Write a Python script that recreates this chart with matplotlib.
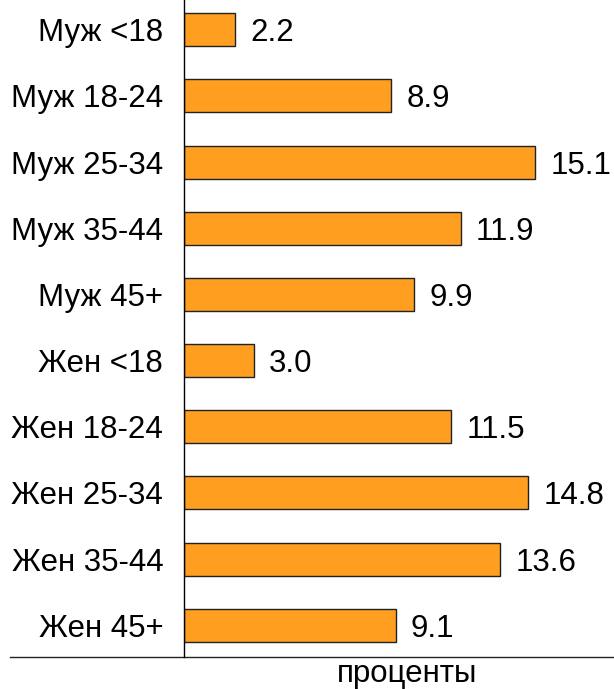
import matplotlib
matplotlib.use('Agg')
import matplotlib.pyplot as plt

# группы и доли, проценты
labels = ['Муж <18', 'Муж 18-24', 'Муж 25-34', 'Муж 35-44', 'Муж 45+',
          'Жен <18', 'Жен 18-24', 'Жен 25-34', 'Жен 35-44', 'Жен 45+']
values = [2.2, 8.9, 15.1, 11.9, 9.9, 3.0, 11.5, 14.8, 13.6, 9.1]

plt.rcParams['font.family'] = ['Liberation Sans', 'DejaVu Sans']

fig = plt.figure(figsize=(6.14, 6.89), dpi=100)
ax = fig.add_axes([184 / 614, 32 / 689, 430 / 614, 657 / 689])

pos = list(range(len(values)))
ax.barh(pos, values, height=0.5, color='#FF9E1F', edgecolor='#222222', linewidth=1)

for p, v in zip(pos, values):
    ax.annotate('%.1f' % v, (v, p), xytext=(11, 0), textcoords='offset points',
                va='center_baseline', ha='left', fontsize=22.5)

ax.set_yticks(pos)
ax.set_yticklabels(labels, fontsize=22.5, va='center_baseline')
ax.tick_params(axis='y', length=0, pad=15)
ax.set_xticks([])
ax.set_xlim(0, 18.5)
ax.set_ylim(9.48, -0.45)

for s in ['top', 'right', 'bottom']:
    ax.spines[s].set_visible(False)
ax.spines['left'].set_linewidth(1)

# нижняя линия, уходит влево за ось
ax.plot([-174 / 430, 1], [0, 0], transform=ax.transAxes, color='#222222',
        linewidth=1, clip_on=False)

fig.text(407 / 614, 15 / 689, 'проценты', ha='center', va='center', fontsize=22.5)

fig.savefig('out.png', dpi=100)
